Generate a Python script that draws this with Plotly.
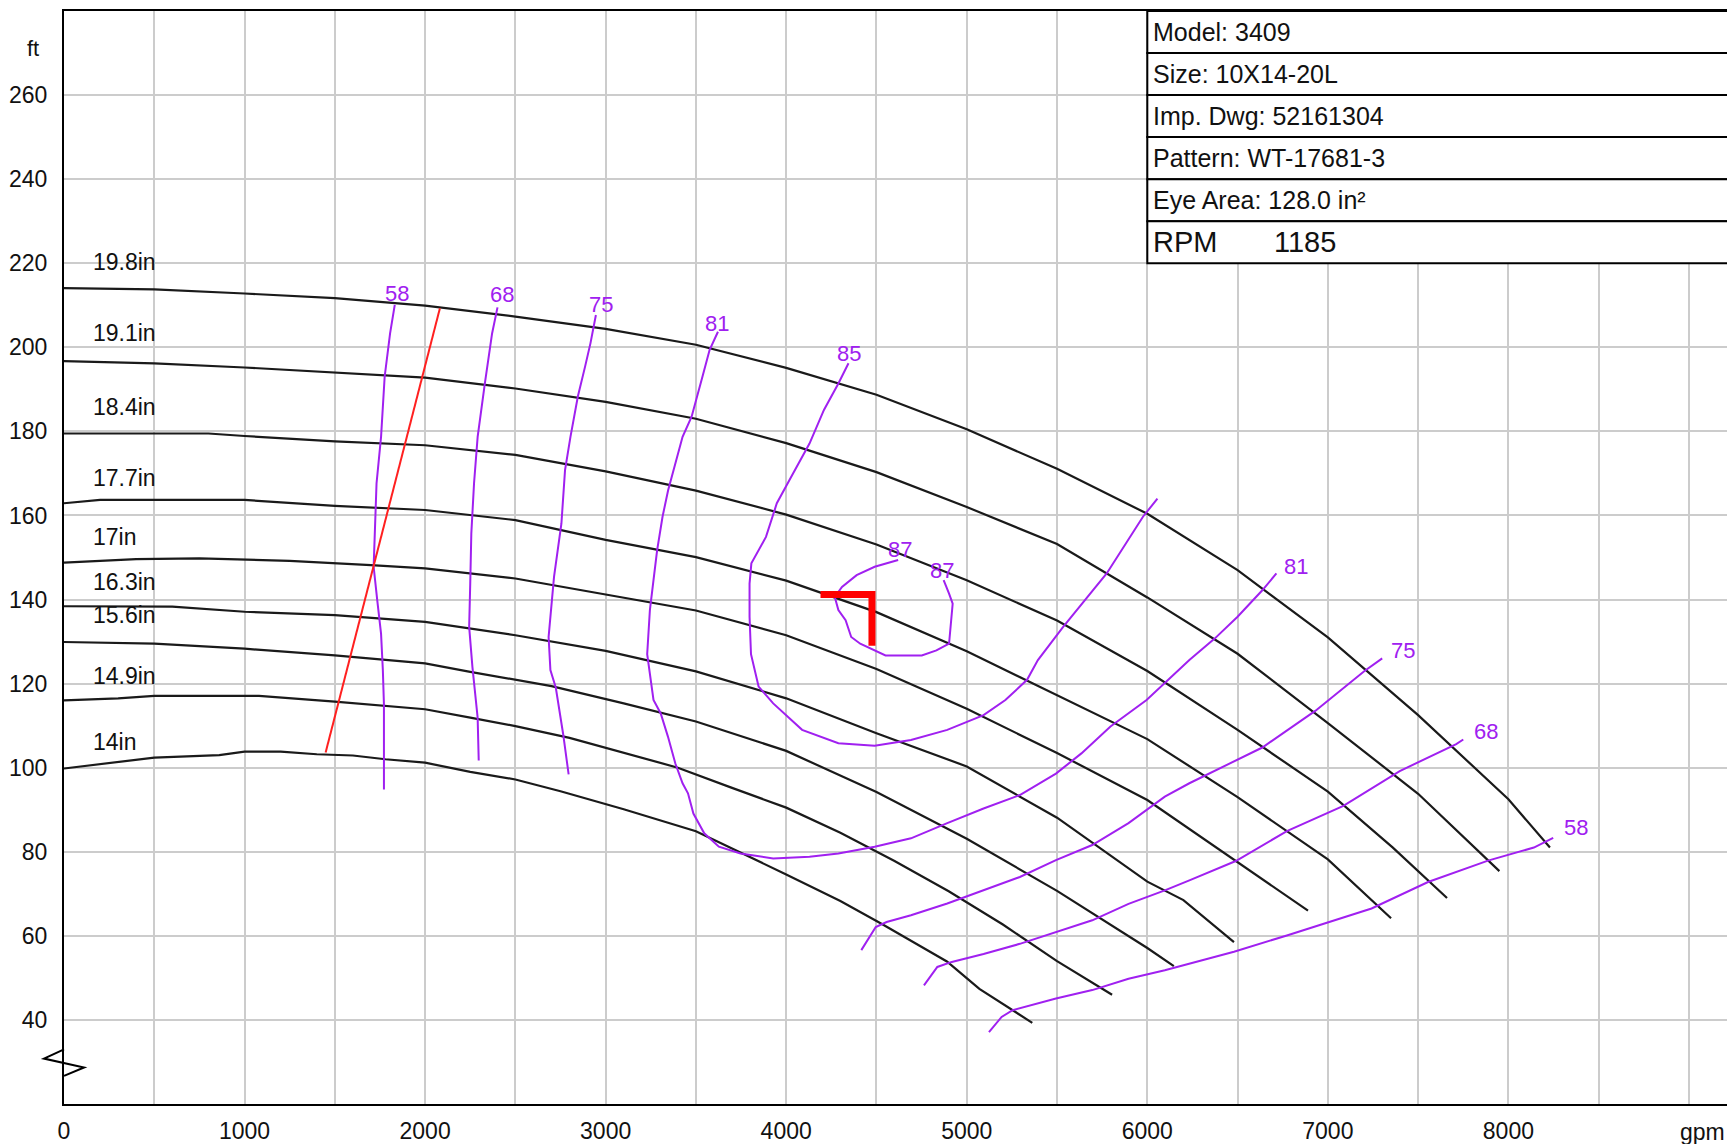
import plotly.graph_objects as go

FONT = "Liberation Sans, Arial, sans-serif"
PURPLE = "#A020F0"
HEAD_COLOR = "#1a1a1a"

# ---------------- head curves (gpm, ft) ----------------
h198_q = [0, 500, 1000, 1500, 2000, 2500, 3000, 3500, 4000, 4500, 5000, 5500, 6000, 6500, 7000, 7500, 8000, 8230]
h198_h = [214.1, 213.8, 212.8, 211.7, 209.9, 207.3, 204.4, 200.6, 195.1, 188.7, 180.5, 171.1, 160.4, 147.0, 131.0, 112.5, 92.5, 81.0]

h191_q = [0, 500, 1000, 1500, 2000, 2500, 3000, 3500, 4000, 4500, 5000, 5500, 6000, 6500, 7000, 7500, 7950]
h191_h = [196.7, 196.2, 195.2, 194.0, 192.8, 190.2, 187.0, 183.0, 177.2, 170.3, 162.0, 153.2, 140.5, 127.1, 110.6, 93.8, 75.4]

h184_q = [0, 800, 1000, 1500, 2000, 2500, 3000, 3500, 4000, 4500, 5000, 5500, 6000, 6500, 7000, 7360, 7660]
h184_h = [179.5, 179.5, 178.9, 177.6, 176.7, 174.4, 170.5, 165.9, 160.2, 153.1, 144.6, 135.0, 123.0, 109.0, 94.3, 81.0, 69.0]

h177_q = [0, 200, 1000, 1500, 2000, 2500, 3000, 3500, 4000, 4500, 5000, 5500, 6000, 6500, 7000, 7350]
h177_h = [162.9, 163.7, 163.7, 162.3, 161.3, 158.9, 154.2, 150.1, 144.5, 137.0, 127.7, 117.3, 106.8, 93.0, 78.2, 64.2]

h170_q = [0, 400, 750, 1250, 1700, 2000, 2500, 3000, 3500, 4000, 4500, 5000, 5500, 6000, 6500, 6890]
h170_h = [148.8, 149.6, 149.8, 149.2, 148.2, 147.4, 145.0, 141.2, 137.4, 131.5, 123.5, 114.0, 103.5, 92.3, 77.5, 66.0]

h163_q = [0, 600, 1000, 1500, 2000, 2500, 3000, 3500, 4000, 4500, 5000, 5500, 6000, 6200, 6480]
h163_h = [138.4, 138.3, 137.1, 136.3, 134.7, 131.5, 127.8, 122.9, 116.5, 108.2, 100.3, 88.1, 72.9, 68.5, 58.5]

h156_q = [0, 500, 1000, 1500, 2000, 2250, 2700, 3100, 3500, 4000, 4500, 5000, 5500, 6000, 6147]
h156_h = [129.9, 129.5, 128.3, 126.7, 124.8, 122.8, 119.4, 115.3, 111.0, 104.0, 94.2, 83.1, 70.7, 57.1, 52.8]

h149_q = [0, 300, 500, 1080, 1500, 2000, 2250, 2500, 2800, 3100, 3400, 3700, 4000, 4300, 4600, 4900, 5200, 5500, 5805]
h149_h = [116.0, 116.5, 117.1, 117.1, 115.7, 113.9, 111.9, 109.9, 107.1, 103.6, 100.0, 95.2, 90.5, 84.5, 77.8, 70.6, 62.7, 54.0, 46.0]

h140_q = [0, 200, 500, 860, 1000, 1200, 1400, 1600, 1780, 2000, 2250, 2500, 2750, 3100, 3500, 4000, 4300, 4530, 4890, 4970, 5070, 5363]
h140_h = [99.8, 100.8, 102.4, 103.0, 103.8, 103.8, 103.2, 102.9, 102.0, 101.2, 99.0, 97.2, 94.4, 90.1, 84.9, 74.6, 68.3, 62.8, 53.9, 51.0, 47.4, 39.3]

head_names = ["19.8in", "19.1in", "18.4in", "17.7in", "17in", "16.3in", "15.6in", "14.9in", "14in"]
head_label_h = [220.2, 203.3, 185.9, 169.0, 154.9, 144.2, 136.3, 121.8, 106.1]
head_label_q = 150

# ---------------- efficiency curves ----------------
e58l_q = [1832, 1806, 1776, 1756, 1731, 1719, 1715, 1735, 1756, 1766, 1772, 1772]
e58l_h = [210.1, 203.3, 193.0, 178.7, 167.6, 154.9, 147.8, 139.8, 131.9, 123.2, 115.1, 94.8]

e68l_q = [2401, 2371, 2331, 2291, 2271, 2256, 2250, 2244, 2262, 2291, 2297]
e68l_h = [209.5, 203.3, 191.4, 178.7, 167.6, 155.7, 143.8, 133.5, 124.0, 111.9, 101.7]

e75l_q = [2946, 2916, 2886, 2846, 2805, 2775, 2755, 2714, 2684, 2694, 2724, 2765, 2795]
e75l_h = [207.7, 201.0, 195.4, 188.3, 178.7, 170.8, 158.1, 145.4, 131.1, 123.2, 119.0, 107.9, 98.4]

e81_q = [3622, 3576, 3536, 3476, 3426, 3386, 3346, 3315, 3285, 3265, 3245, 3230, 3265, 3305, 3345, 3386, 3426,
         3456, 3486, 3546, 3627, 3747, 3928, 4129, 4289, 4490, 4691, 4892, 5093, 5294, 5494, 5635, 5796, 5996,
         6233, 6373, 6500, 6637, 6715]
e81_h = [203.7, 199.4, 193.0, 183.5, 178.7, 172.4, 166.0, 159.7, 151.7, 144.6, 137.5, 127.0, 116.1, 112.9, 107.4, 101.0, 96.3,
         93.9, 89.1, 84.4, 81.2, 79.6, 78.4, 78.8, 79.6, 81.2, 83.2, 86.8, 90.3, 93.5, 98.6, 103.4, 109.8, 116.1,
         125.6, 130.7, 135.9, 142.2, 146.2]

e85_q = [4345, 4289, 4209, 4129, 4028, 3948, 3888, 3827, 3807, 3797, 3797, 3805, 3847, 3928, 4088, 4289, 4490,
         4691, 4892, 5093, 5214, 5334, 5394, 5534, 5775, 5976, 6056]
e85_h = [196.2, 191.4, 185.1, 177.1, 169.2, 162.9, 154.9, 150.2, 148.6, 143.8, 135.9, 127.0, 119.3, 115.3, 109.0, 105.8, 105.2,
         106.6, 109.0, 112.5, 116.1, 120.9, 125.6, 133.5, 146.2, 159.7, 164.0]

e87_q = [4620, 4490, 4390, 4309, 4269, 4289, 4329, 4360, 4410, 4490, 4550, 4751, 4832, 4902, 4912, 4922, 4902, 4872]
e87_h = [149.4, 147.8, 145.8, 143.0, 140.6, 137.5, 135.1, 131.1, 129.5, 127.9, 126.7, 126.7, 127.9, 129.5, 134.3, 139.0, 141.4, 144.6]

e75r_q = [4416, 4496, 4556, 4691, 4892, 5093, 5294, 5494, 5695, 5896, 6097, 6233, 6637, 6930, 7203, 7301]
e75r_h = [56.6, 62.1, 63.3, 64.9, 67.7, 70.9, 74.0, 78.0, 81.6, 86.8, 93.1, 96.3, 104.8, 113.5, 123.0, 126.0]

e68r_q = [4763, 4837, 4917, 5093, 5294, 5494, 5695, 5896, 6097, 6233, 6490, 6773, 7086, 7398, 7711, 7750]
e68r_h = [48.2, 52.6, 53.8, 55.7, 58.1, 60.9, 63.7, 67.6, 70.8, 73.2, 77.8, 84.9, 90.9, 99.2, 105.6, 106.7]

e58r_q = [5123, 5193, 5254, 5494, 5695, 5896, 6097, 6233, 6480, 6773, 7242, 7555, 7887, 8141, 8248]
e58r_h = [37.1, 40.7, 42.3, 45.1, 47.1, 49.8, 51.8, 53.4, 56.2, 60.1, 66.5, 72.8, 77.9, 81.0, 83.3]

eff_labels = ["58", "68", "75", "81", "85", "87", "87", "81", "75", "68", "58"]
eff_label_q = [1846, 2426, 2973, 3616, 4349, 4628, 4863, 6822, 7418, 7877, 8375]
eff_label_h = [212.9, 212.5, 210.1, 205.7, 198.6, 151.8, 147.0, 147.8, 127.9, 108.7, 85.7]

# ---------------- red lines ----------------
red_line_q = [1449, 2082]
red_line_h = [103.6, 209.3]
bep_q = [4190, 4475, 4475]
bep_h = [141.2, 141.2, 129.0]

# ---------------- info box ----------------
info_lines = ["Model: 3409", "Size: 10X14-20L", "Imp. Dwg: 52161304", "Pattern: WT-17681-3", "Eye Area: 128.0 in²"]
rpm_label = "RPM"
rpm_value = "1185"
box_left_q = 6000
box_rows = [280, 270, 260, 250, 240, 230, 220]

x_ticks = list(range(0, 9001, 500))
x_ticktext = [str(v) if (v % 1000 == 0 and v <= 8000) else "" for v in x_ticks]
y_ticks = list(range(40, 261, 20))

fig = go.Figure()

heads = [(h198_q, h198_h), (h191_q, h191_h), (h184_q, h184_h), (h177_q, h177_h), (h170_q, h170_h),
         (h163_q, h163_h), (h156_q, h156_h), (h149_q, h149_h), (h140_q, h140_h)]
for name, (q, h) in zip(head_names, heads):
    fig.add_trace(go.Scatter(x=q, y=h, mode="lines", name=name,
                             line=dict(color=HEAD_COLOR, width=2.2), hoverinfo="skip"))

effs = [(e58l_q, e58l_h), (e68l_q, e68l_h), (e75l_q, e75l_h), (e81_q, e81_h), (e85_q, e85_h),
        (e87_q, e87_h), (e75r_q, e75r_h), (e68r_q, e68r_h), (e58r_q, e58r_h)]
for q, h in effs:
    fig.add_trace(go.Scatter(x=q, y=h, mode="lines", line=dict(color=PURPLE, width=2), hoverinfo="skip"))

fig.add_trace(go.Scatter(x=red_line_q, y=red_line_h, mode="lines", line=dict(color="#FF2020", width=2), hoverinfo="skip"))
fig.add_trace(go.Scatter(x=bep_q, y=bep_h, mode="lines", line=dict(color="#FF0000", width=7), hoverinfo="skip"))

annotations = []
for name, hy in zip(head_names, head_label_h):
    annotations.append(dict(x=head_label_q, y=hy, text=name, showarrow=False, xanchor="left", yanchor="middle",
                            font=dict(family=FONT, size=23, color="#111")))
for t, q, h in zip(eff_labels, eff_label_q, eff_label_h):
    annotations.append(dict(x=q, y=h, text=t, showarrow=False, xanchor="center", yanchor="middle",
                            font=dict(family=FONT, size=22, color=PURPLE)))

shapes = []
for i in range(len(box_rows) - 1):
    shapes.append(dict(type="rect", xref="x", yref="y", x0=box_left_q, x1=9600,
                       y0=box_rows[i + 1], y1=box_rows[i], line=dict(color="black", width=2),
                       fillcolor="white", layer="above"))
for i, t in enumerate(info_lines):
    annotations.append(dict(x=box_left_q + 20, y=(box_rows[i] + box_rows[i + 1]) / 2, text=t, showarrow=False,
                            xanchor="left", yanchor="middle", font=dict(family=FONT, size=25, color="#111")))
annotations.append(dict(x=box_left_q + 20, y=(box_rows[5] + box_rows[6]) / 2, text=rpm_label, showarrow=False,
                        xanchor="left", yanchor="middle", font=dict(family=FONT, size=29, color="#111")))
annotations.append(dict(x=box_left_q + 690, y=(box_rows[5] + box_rows[6]) / 2, text=rpm_value, showarrow=False,
                        xanchor="left", yanchor="middle", font=dict(family=FONT, size=29, color="#111")))

# axis unit labels
annotations.append(dict(x=-0.0183, y=0.9653, xref="paper", yref="paper", text="ft", showarrow=False,
                        xanchor="center", yanchor="middle", font=dict(family=FONT, size=22, color="#111")))
annotations.append(dict(x=0.9803, y=-0.0256, xref="paper", yref="paper", text="gpm", showarrow=False,
                        xanchor="center", yanchor="middle", font=dict(family=FONT, size=23, color="#111")))

# axis break symbol
shapes.append(dict(type="path", xref="paper", yref="y",
                   path="M 0,33.0 L -0.012,30.8 L 0.012,28.7 L 0,26.7",
                   line=dict(color="black", width=2)))

# The page body has an 8px default margin; offset the plot so the plot area lands where the reference has it.
fig.update_layout(
    width=1735, height=1144,
    margin=dict(l=55, r=8, t=1, b=48),
    plot_bgcolor="white", paper_bgcolor="white",
    showlegend=False,
    annotations=annotations,
    shapes=shapes,
    font=dict(family=FONT, size=23, color="#111"),
    xaxis=dict(range=[0, 9255], tickmode="array", tickvals=x_ticks, ticktext=x_ticktext,
               showgrid=True, gridcolor="#cccccc", gridwidth=1.5, zeroline=False,
               showline=True, linecolor="black", linewidth=2, mirror=True,
               ticks="", ticklabelstandoff=5, tickfont=dict(family=FONT, size=23, color="#111")),
    yaxis=dict(range=[20, 280], tickmode="array", tickvals=y_ticks,
               showgrid=True, gridcolor="#cccccc", gridwidth=1.5, zeroline=False,
               showline=True, linecolor="black", linewidth=2, mirror=False,
               ticks="", ticklabelstandoff=10, tickfont=dict(family=FONT, size=23, color="#111")),
)

fig.write_html("out.html")
